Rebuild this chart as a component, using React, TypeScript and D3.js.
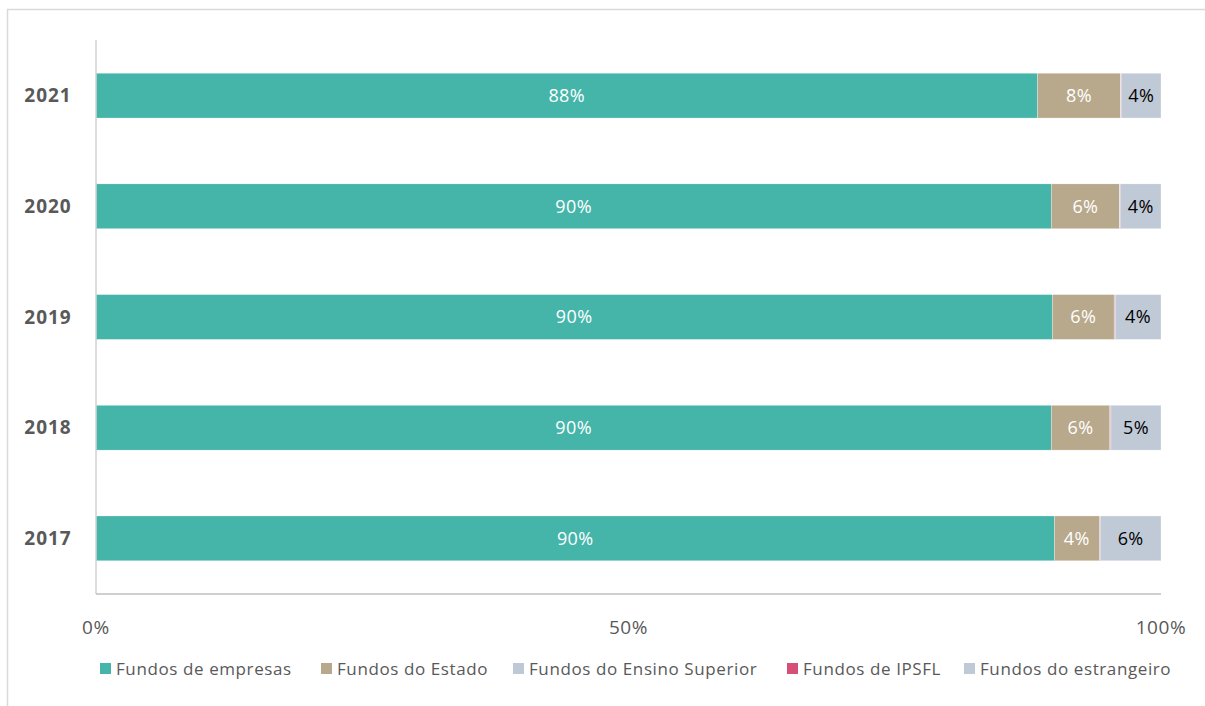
import React from "react";
import * as d3 from "d3";

const years = ["2021", "2020", "2019", "2018", "2017"];
const seriesNames = [
  "Fundos de empresas",
  "Fundos do Estado",
  "Fundos do Ensino Superior",
  "Fundos de IPSFL",
  "Fundos do estrangeiro",
];
const empresas = [88.4, 89.7, 89.8, 89.7, 90.0];
const estado = [7.8, 6.4, 5.8, 5.5, 4.2];
const ensino = [0.05, 0.05, 0.05, 0.05, 0.05];
const ipsfl = [0.05, 0.05, 0.05, 0.05, 0.05];
const estrangeiro = [3.7, 3.8, 4.3, 4.7, 5.7];
const xTicks = [0, 50, 100];

const colors = ["#45B5AA", "#B8A98C", "#BFC9D6", "#D64F76", "#C0CAD7"];
const labelColors = ["#FFFFFF", "#FFFFFF", null, null, "#000000"];
const legendX = [100, 321, 513, 787, 964];

const FONT = "'Open Sans', 'Liberation Sans', sans-serif";

export default function App() {
  const W = 1205, H = 706;
  const left = 96, right = 1161, top = 40, bottom = 594;
  const x = d3.scaleLinear().domain([0, 100]).range([left, right]);
  const y = d3.scaleBand().domain(years).range([top, bottom]).paddingInner(0.595).paddingOuter(0.3);

  const rows = years.map((yr, i) => ({
    year: yr,
    v: [empresas[i], estado[i], ensino[i], ipsfl[i], estrangeiro[i]],
  }));
  const keys = [0, 1, 2, 3, 4];
  const stack = d3.stack<any, number>().keys(keys as any).value((d: any, k: any) => d.v[k]);
  const stacked = stack(rows as any);

  return (
    <svg width={W} height={H} style={{ position: "absolute", left: 0, top: 0, background: "#fff" }} fontFamily={FONT}>
      <rect x={7.5} y={9.5} width={1210} height={720} fill="#fff" stroke="#D9D9D9" strokeWidth={1.5} />
      {stacked.map((layer, si) => (
        <g key={si}>
          {layer.map((d: any, j) => {
            const x0 = x(d[0]), x1 = x(d[1]);
            const yy = y(d.data.year)!;
            return (
              <rect key={j} x={x0} y={yy} width={Math.max(0, x1 - x0)} height={y.bandwidth()}
                fill={colors[si]} stroke="#fff" strokeWidth={0.4} strokeOpacity={0.7} />
            );
          })}
        </g>
      ))}
      {stacked.map((layer, si) =>
        labelColors[si] ? (
          <g key={"l" + si}>
            {layer.map((d: any, j) => (
              <text key={j} x={(x(d[0]) + x(d[1])) / 2} y={y(d.data.year)! + y.bandwidth() / 2}
                dy="0.35em" textAnchor="middle" fontSize={18} letterSpacing={0.4} fill={labelColors[si]!}>
                {Math.round(d[1] - d[0]) + "%"}
              </text>
            ))}
          </g>
        ) : null
      )}
      <line x1={left} x2={left} y1={top} y2={bottom} stroke="#D0D0D0" strokeWidth={1.5} />
      <line x1={left} x2={right} y1={bottom} y2={bottom} stroke="#BFBFBF" strokeWidth={1.5} />
      {years.map((yr) => (
        <text key={yr} x={48} y={y(yr)! + y.bandwidth() / 2} dy="0.35em" textAnchor="middle"
          fontSize={19} letterSpacing={1} fontWeight="bold" fill="#595959">{yr}</text>
      ))}
      {xTicks.map((t) => (
        <text key={t} x={x(t)} y={634} textAnchor="middle" fontSize={19} letterSpacing={0.6} fill="#595959">{t + "%"}</text>
      ))}
      {seriesNames.map((n, i) => (
        <g key={n}>
          <rect x={legendX[i]} y={663} width={11} height={11} fill={colors[i]} />
          <text x={legendX[i] + 16} y={675} fontSize={17} letterSpacing={0.6} fill="#595959">{n}</text>
        </g>
      ))}
    </svg>
  );
}
